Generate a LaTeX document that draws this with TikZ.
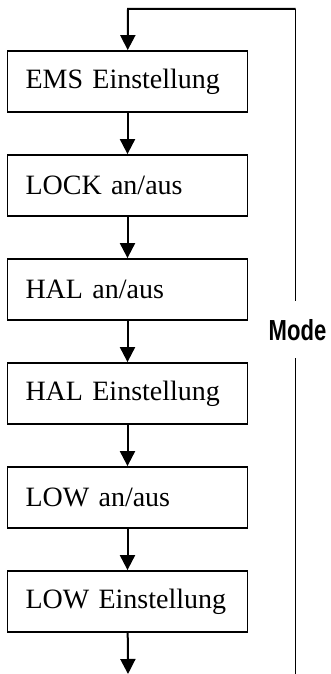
\documentclass[tikz,border=0pt]{standalone}
\usepackage{fontspec}
\setmainfont{Liberation Serif}
\newfontfamily\modefont{Liberation Sans}
\usetikzlibrary{arrows.meta,positioning}

\tikzset{
  stufe/.style={rectangle, draw, line width=1.8pt, minimum width=240pt, minimum height=61pt,
    inner xsep=18pt, text width=204pt, align=left, font=\fontsize{28}{32}\selectfont},
  pfeil/.style={line width=2pt, -{Triangle[width=15pt,length=15pt]}}
}

\begin{document}
\begin{tikzpicture}[x=1pt,y=1pt]
\useasboundingbox (0,0) rectangle (330,-674);
\node[stufe] (ems) at (127.5,-81.5) {EMS Einstellung};
\node[stufe] (lock) at (127.5,-185.5) {LOCK an/aus};
\node[stufe] (halan) at (127.5,-289.5) {HAL an/aus};
\node[stufe] (halein) at (127.5,-393.5) {HAL Einstellung};
\node[stufe] (lowan) at (127.5,-497.5) {LOW an/aus};
\node[stufe] (lowein) at (127.5,-601.5) {LOW Einstellung};
\node[anchor=base, inner ysep=18pt, font=\modefont\bfseries\fontsize{29}{32}\selectfont] (mode) at (297.5,-340) {\scalebox{0.76}[1]{Mode}};
\coordinate (oben) at (128,-9);
\coordinate (ecke) at (295.5,-9);
\coordinate (ende) at (128,-674);
\coordinate (unten) at (295.5,-674);

\draw[pfeil] (ems) -- (lock);
\draw[pfeil] (lock) -- (halan);
\draw[pfeil] (halan) -- (halein);
\draw[pfeil] (halein) -- (lowan);
\draw[pfeil] (lowan) -- (lowein);
\draw[pfeil] (lowein) -- (ende);
\draw[line width=1.3pt] (ecke |- mode.north) -- (ecke);
\draw[pfeil] (ecke) -- (oben) -- (ems);
\draw[line width=1.3pt] (ecke |- mode.south) -- (unten);
\end{tikzpicture}
\end{document}
